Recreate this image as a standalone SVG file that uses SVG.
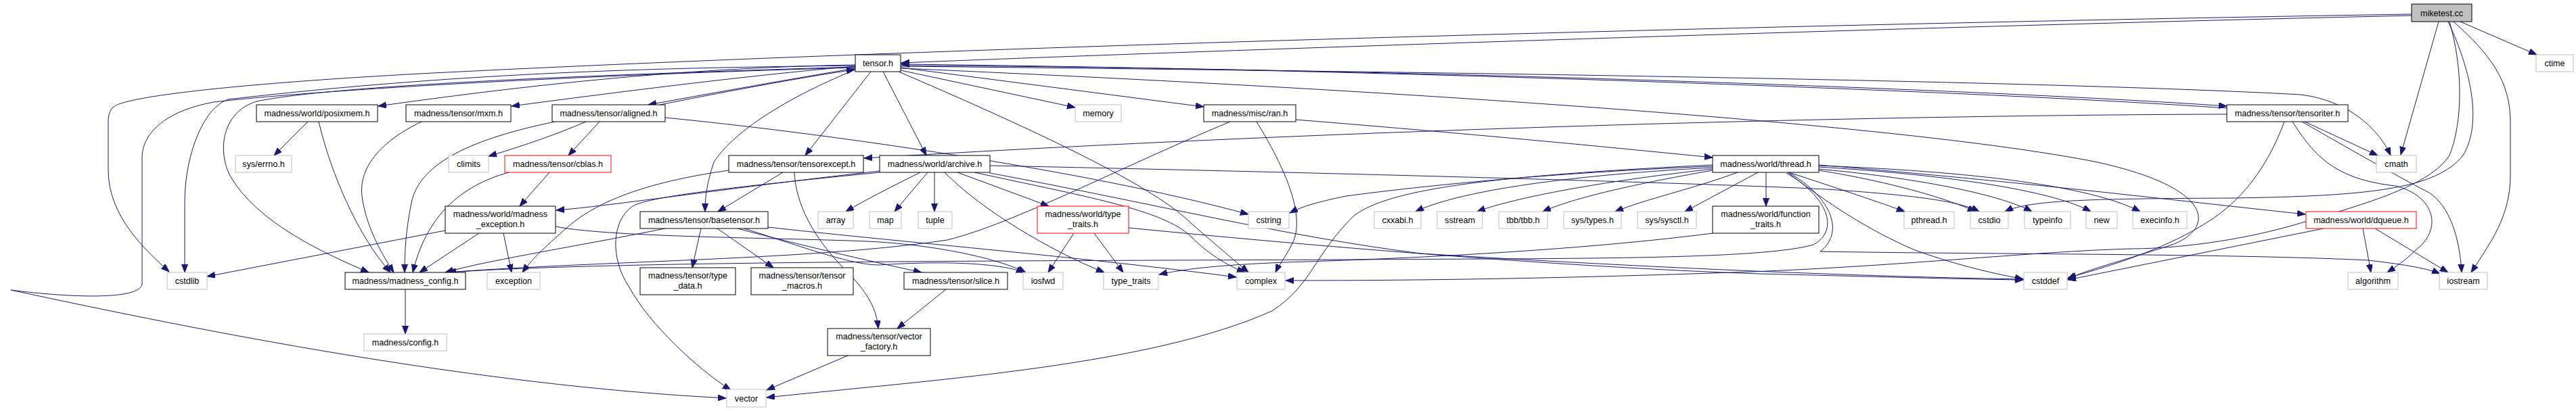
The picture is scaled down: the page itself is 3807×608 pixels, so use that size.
<svg xmlns="http://www.w3.org/2000/svg" width="3807" height="608" viewBox="0 0 3807 608">
<style>
text{font-family:"Liberation Sans",Arial,Helvetica,sans-serif;font-size:12.6px;text-anchor:middle;fill:#000}
.n rect{fill:#fff;stroke:#000;stroke-width:1}
.g rect{fill:#fff;stroke:#bfbfbf;stroke-width:1}
.r rect{fill:#fff;stroke:#ff0000;stroke-width:1}
.m rect{fill:#bfbfbf;stroke:#000;stroke-width:1}
#edges path{fill:none;stroke:#191970;stroke-width:1;marker-end:url(#a)}
</style>
<defs>
<marker id="a" markerWidth="13" markerHeight="10" refX="12" refY="4.5" orient="auto" markerUnits="userSpaceOnUse">
<path d="M0,0 L12,4.5 L0,9 z" fill="#191970" stroke="#191970" stroke-width="1"/>
</marker>
</defs>
<rect x="0" y="0" width="3807" height="608" fill="#fff"/>
<g id="edges">
<path d="M3564,23 C2800,40 1700,78 1332,93"/>
<path d="M3564,21 C2800,33 1500,65 660,107 C400,120 190,140 168,158 C162,163 160,170 160,180 L160,252 C160,320 215,370 250,402"/>
<path d="M3604,32 L3548,229"/>
<path d="M3620,32 C3640,100 3640,180 3620,230 C3590,275 3500,300 3400,330 C3300,360 3200,368 3150,368 C3000,372 2800,395 2560,403 C2300,412 2100,415 1900,415"/>
<path d="M3618,32 C3650,100 3670,180 3640,230 C3600,280 3500,290 3300,293 C3100,294 3000,295 2963,313"/>
<path d="M3626,32 C3680,80 3710,120 3710,180 L3710,260 C3710,320 3680,360 3652,403"/>
<path d="M3636,32 L3749,81"/>
<path d="M1264,96 C1000,100 750,130 559,157"/>
<path d="M1264,98 C1100,112 900,138 756,157"/>
<path d="M1264,101 C1150,120 1030,142 958,155"/>
<path d="M1264,97 C1000,100 700,105 337,147 C300,160 273,230 273,300 L273,403"/>
<path d="M1264,99 C900,110 500,125 379,150 C330,165 320,220 340,260 C380,330 480,375 545,403"/>
<path d="M1264,100 C900,110 500,130 316,151 C240,165 210,200 210,233 L210,419 C210,445 100,440 16,429 C300,490 700,570 1073,589"/>
<path d="M1287,106 L1190,230"/>
<path d="M1305,106 L1369,230"/>
<path d="M1264,103 C1150,150 1080,200 1055,240 C1045,270 1042,290 1042,313"/>
<path d="M1328,106 C1500,180 1700,270 1760,330 C1800,365 1830,390 1845,403"/>
<path d="M1331,104 L1589,159"/>
<path d="M1331,100 L1779,158"/>
<path d="M1331,101 C2000,130 2800,180 3100,240 C3280,280 3270,340 3210,362 C3140,385 3080,400 3056,413"/>
<path d="M1331,98 C2000,105 3000,118 3400,140 C3480,150 3520,200 3533,230"/>
<path d="M1331,97 C2000,100 2900,130 3291,157"/>
<path d="M3291,160 C2900,133 2000,102 1332,95"/>
<path d="M3291,169 C2800,170 2000,190 1277,234"/>
<path d="M3406,180 L3514,230"/>
<path d="M3402,180 C3480,225 3560,270 3590,285 C3620,305 3635,350 3638,403"/>
<path d="M3388,180 C3420,230 3450,265 3540,275 C3600,290 3610,340 3570,370 C3555,385 3540,395 3528,403"/>
<path d="M3376,180 C3350,250 3310,300 3260,330 C3210,362 3140,388 3056,411"/>
<path d="M975,155 C1050,140 1180,115 1263,103"/>
<path d="M820,180 C700,205 620,240 608,300 C600,340 598,370 598,403"/>
<path d="M866,180 C820,200 760,220 722,231"/>
<path d="M886,180 L840,230"/>
<path d="M983,174 C1200,195 1600,250 1845,317"/>
<path d="M455,180 L405,230"/>
<path d="M471,180 C490,260 530,350 577,403"/>
<path d="M623,180 C560,210 530,250 535,290 C540,330 560,370 582,403"/>
<path d="M812,255 L768,305"/>
<path d="M752,255 C680,275 630,320 610,403"/>
<path d="M708,345 L620,403"/>
<path d="M658,341 L306,409"/>
<path d="M744,345 L756,403"/>
<path d="M821,335 C900,352 1200,352 1300,358 C1400,365 1480,385 1516,403"/>
<path d="M1157,255 L1061,313"/>
<path d="M1077,252 C950,270 880,300 840,335 C800,370 785,385 772,403"/>
<path d="M1174,255 C1176,300 1200,350 1250,400 C1290,440 1296,465 1298,486"/>
<path d="M983,338 C850,365 720,385 658,403"/>
<path d="M1036,338 L1023,396"/>
<path d="M1060,338 L1143,396"/>
<path d="M1090,338 C1180,362 1280,385 1362,403"/>
<path d="M1100,338 C1200,370 1260,392 1300,392 C1400,385 1480,390 1514,403"/>
<path d="M1135,336 C1300,355 1600,380 1827,410"/>
<path d="M1300,253 C1100,275 900,305 822,311"/>
<path d="M1300,255 C1100,275 960,290 935,305 C905,325 900,380 930,425 C960,480 1030,545 1080,577"/>
<path d="M1360,255 C1320,275 1280,295 1250,313"/>
<path d="M1371,255 L1322,313"/>
<path d="M1381,255 L1381,313"/>
<path d="M1415,255 L1550,305"/>
<path d="M1396,255 C1450,310 1550,370 1632,403"/>
<path d="M1440,255 C1600,290 1720,310 1760,350 C1790,380 1820,395 1840,403"/>
<path d="M1463,245 C1900,254 2500,270 2700,280 C2850,290 2900,300 2925,313"/>
<path d="M1463,256 C1700,300 1900,350 2100,375 C2500,400 2800,410 2990,413"/>
<path d="M1915,177 C2200,200 2400,220 2531,233"/>
<path d="M1857,180 C1900,250 1930,320 1910,360 C1900,380 1890,392 1885,403"/>
<path d="M1818,180 C1650,250 1500,330 1400,355 C1200,385 900,385 660,403"/>
<path d="M2531,248 C2300,260 2150,285 2092,313"/>
<path d="M2531,250 C2350,270 2230,295 2183,313"/>
<path d="M2531,252 C2400,275 2320,295 2280,313"/>
<path d="M2568,255 C2500,280 2430,295 2387,313"/>
<path d="M2598,255 L2490,313"/>
<path d="M2610,255 L2610,305"/>
<path d="M2644,255 C2720,280 2780,300 2815,313"/>
<path d="M2688,252 C2800,270 2880,295 2920,313"/>
<path d="M2688,250 C2850,265 2960,290 3003,313"/>
<path d="M2688,247 C2900,260 3040,285 3090,313"/>
<path d="M2688,245 C2950,255 3100,280 3163,313"/>
<path d="M2688,244 C3000,270 3200,295 3407,317"/>
<path d="M2642,255 C2700,300 2760,340 2830,370 C2900,395 2950,405 2990,413"/>
<path d="M2531,246 C2300,255 2100,275 1990,290 C1950,298 1925,305 1906,315"/>
<path d="M2531,244 C2200,260 2050,280 2000,320 C1940,380 1940,420 1880,460 C1700,540 1400,560 1133,588"/>
<path d="M2640,256 C2700,290 2720,340 2680,362 C2600,385 2300,382 2000,384 C1500,386 900,386 662,403"/>
<path d="M2645,256 C2710,295 2725,345 2690,372 C2900,376 3300,375 3500,385 C3560,392 3590,398 3606,405"/>
<path d="M2531,345 C2300,375 2000,385 1900,388 C1800,392 1750,398 1713,406"/>
<path d="M1587,345 L1549,403"/>
<path d="M1617,345 L1660,403"/>
<path d="M1668,337 C1900,360 2300,395 2600,405 C2800,410 2900,413 2990,414"/>
<path d="M3492,338 L3504,403"/>
<path d="M3510,338 L3618,403"/>
<path d="M3434,338 C3300,365 3150,395 3056,414"/>
<path d="M1398,428 L1326,486"/>
<path d="M1253,526 L1133,577"/>
<path d="M599,428 L599,494"/>
</g>
<g id="n_miketest" class="m"><rect x="3564" y="6" width="89" height="26"/><text x="3608.5" y="23.5">miketest.cc</text></g>
<g id="n_tensor" class="n"><rect x="1264" y="81" width="67" height="25"/><text x="1297.5" y="98">tensor.h</text></g>
<g id="n_ctime" class="g"><rect x="3748" y="81" width="55" height="25"/><text x="3775.5" y="98">ctime</text></g>
<g id="n_posixmem" class="n"><rect x="379" y="155" width="179" height="25"/><text x="468.5" y="172">madness/world/posixmem.h</text></g>
<g id="n_mxm" class="n"><rect x="600" y="155" width="155" height="25"/><text x="677.5" y="172">madness/tensor/mxm.h</text></g>
<g id="n_aligned" class="n"><rect x="816" y="155" width="167" height="25"/><text x="899.5" y="172">madness/tensor/aligned.h</text></g>
<g id="n_memory" class="g"><rect x="1589" y="155" width="68" height="25"/><text x="1623" y="172">memory</text></g>
<g id="n_ran" class="n"><rect x="1779" y="155" width="136" height="25"/><text x="1847" y="172">madness/misc/ran.h</text></g>
<g id="n_tensoriter" class="n"><rect x="3291" y="155" width="179" height="25"/><text x="3380.5" y="172">madness/tensor/tensoriter.h</text></g>
<g id="n_errno" class="g"><rect x="348" y="230" width="83" height="25"/><text x="389.5" y="247">sys/errno.h</text></g>
<g id="n_climits" class="g"><rect x="663" y="230" width="59" height="25"/><text x="692.5" y="247">climits</text></g>
<g id="n_cblas" class="r"><rect x="746" y="230" width="157" height="25"/><text x="824.5" y="247">madness/tensor/cblas.h</text></g>
<g id="n_tensorexcept" class="n"><rect x="1077" y="230" width="199" height="25"/><text x="1176.5" y="247">madness/tensor/tensorexcept.h</text></g>
<g id="n_archive" class="n"><rect x="1300" y="230" width="163" height="25"/><text x="1381.5" y="247">madness/world/archive.h</text></g>
<g id="n_thread" class="n"><rect x="2531" y="230" width="157" height="25"/><text x="2609.5" y="247">madness/world/thread.h</text></g>
<g id="n_cmath" class="g"><rect x="3512" y="230" width="59" height="25"/><text x="3541.5" y="247">cmath</text></g>
<g id="n_mexc" class="n"><rect x="658" y="305" width="163" height="40"/><text x="739.5" y="321">madness/world/madness</text><text x="739.5" y="336">_exception.h</text></g>
<g id="n_basetensor" class="n"><rect x="946" y="313" width="189" height="25"/><text x="1040.5" y="330">madness/tensor/basetensor.h</text></g>
<g id="n_array" class="g"><rect x="1209" y="313" width="52" height="25"/><text x="1235" y="330">array</text></g>
<g id="n_map" class="g"><rect x="1285" y="313" width="47" height="25"/><text x="1308.5" y="330">map</text></g>
<g id="n_tuple" class="g"><rect x="1357" y="313" width="50" height="25"/><text x="1382" y="330">tuple</text></g>
<g id="n_typetraits_h" class="r"><rect x="1533" y="305" width="135" height="40"/><text x="1600.5" y="321">madness/world/type</text><text x="1600.5" y="336">_traits.h</text></g>
<g id="n_cstring" class="g"><rect x="1845" y="313" width="60" height="25"/><text x="1875" y="330">cstring</text></g>
<g id="n_cxxabi" class="g"><rect x="2031" y="313" width="69" height="25"/><text x="2065.5" y="330">cxxabi.h</text></g>
<g id="n_sstream" class="g"><rect x="2124" y="313" width="67" height="25"/><text x="2157.5" y="330">sstream</text></g>
<g id="n_tbb" class="g"><rect x="2215" y="313" width="72" height="25"/><text x="2251" y="330">tbb/tbb.h</text></g>
<g id="n_systypes" class="g"><rect x="2311" y="313" width="85" height="25"/><text x="2353.5" y="330">sys/types.h</text></g>
<g id="n_syssysctl" class="g"><rect x="2420" y="313" width="87" height="25"/><text x="2463.5" y="330">sys/sysctl.h</text></g>
<g id="n_functraits" class="n"><rect x="2531" y="305" width="157" height="40"/><text x="2609.5" y="321">madness/world/function</text><text x="2609.5" y="336">_traits.h</text></g>
<g id="n_pthread" class="g"><rect x="2814" y="313" width="74" height="25"/><text x="2851" y="330">pthread.h</text></g>
<g id="n_cstdio" class="g"><rect x="2912" y="313" width="56" height="25"/><text x="2940" y="330">cstdio</text></g>
<g id="n_typeinfo" class="g"><rect x="2992" y="313" width="68" height="25"/><text x="3026" y="330">typeinfo</text></g>
<g id="n_new" class="g"><rect x="3083" y="313" width="46" height="25"/><text x="3106" y="330">new</text></g>
<g id="n_execinfo" class="g"><rect x="3152" y="313" width="80" height="25"/><text x="3192" y="330">execinfo.h</text></g>
<g id="n_dqueue" class="r"><rect x="3408" y="313" width="163" height="25"/><text x="3489.5" y="330">madness/world/dqueue.h</text></g>
<g id="n_cstdlib" class="g"><rect x="247" y="403" width="59" height="25"/><text x="276.5" y="420">cstdlib</text></g>
<g id="n_mconfig" class="n"><rect x="510" y="403" width="178" height="25"/><text x="599" y="420">madness/madness_config.h</text></g>
<g id="n_exception" class="g"><rect x="720" y="403" width="78" height="25"/><text x="759" y="420">exception</text></g>
<g id="n_typedata" class="n"><rect x="946" y="396" width="141" height="40"/><text x="1016.5" y="412">madness/tensor/type</text><text x="1016.5" y="427">_data.h</text></g>
<g id="n_tmacros" class="n"><rect x="1110" y="396" width="151" height="40"/><text x="1185.5" y="412">madness/tensor/tensor</text><text x="1185.5" y="427">_macros.h</text></g>
<g id="n_slice" class="n"><rect x="1336" y="403" width="153" height="25"/><text x="1412.5" y="420">madness/tensor/slice.h</text></g>
<g id="n_iosfwd" class="g"><rect x="1512" y="403" width="59" height="25"/><text x="1541.5" y="420">iosfwd</text></g>
<g id="n_typetraits" class="g"><rect x="1631" y="403" width="81" height="25"/><text x="1671.5" y="420">type_traits</text></g>
<g id="n_complex" class="g"><rect x="1828" y="403" width="71" height="25"/><text x="1863.5" y="420">complex</text></g>
<g id="n_cstddef" class="g"><rect x="2991" y="403" width="64" height="25"/><text x="3023" y="420">cstddef</text></g>
<g id="n_algorithm" class="g"><rect x="3470" y="403" width="74" height="25"/><text x="3507" y="420">algorithm</text></g>
<g id="n_iostream" class="g"><rect x="3605" y="403" width="71" height="25"/><text x="3640.5" y="420">iostream</text></g>
<g id="n_config" class="g"><rect x="538" y="494" width="122" height="25"/><text x="599" y="511">madness/config.h</text></g>
<g id="n_vfactory" class="n"><rect x="1223" y="486" width="152" height="40"/><text x="1299" y="502">madness/tensor/vector</text><text x="1299" y="517">_factory.h</text></g>
<g id="n_vector" class="g"><rect x="1074" y="576" width="58" height="26"/><text x="1103" y="593.5">vector</text></g>
</svg>
